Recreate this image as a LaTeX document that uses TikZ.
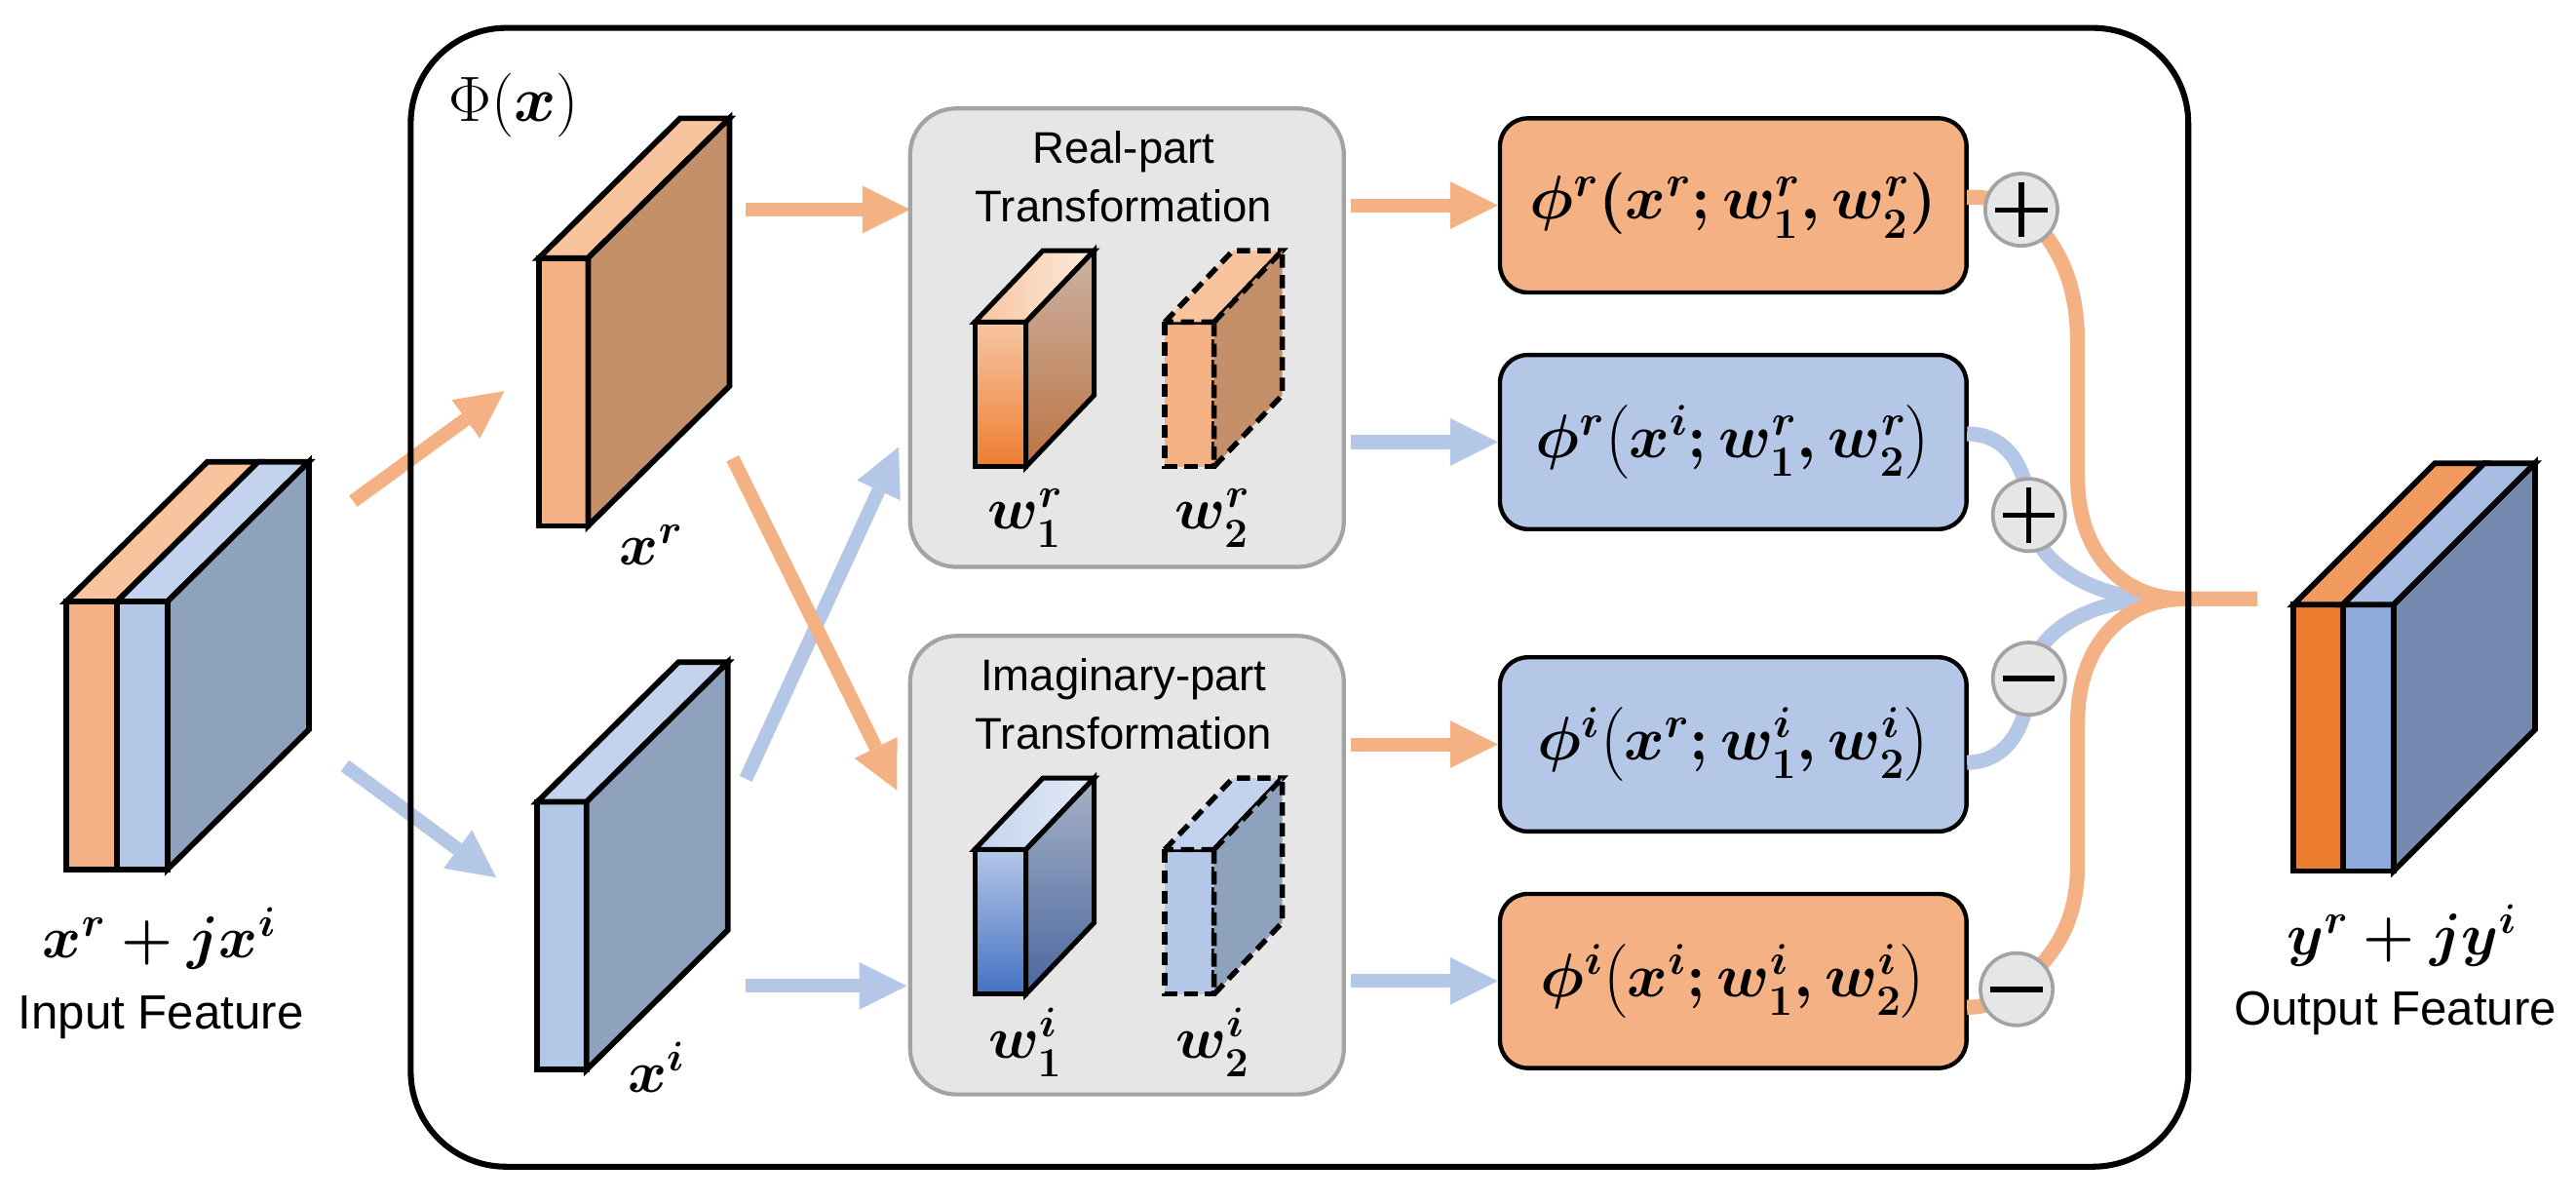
\RequirePackage{fix-cm}
\documentclass[tikz,border=0pt]{standalone}
\usepackage{amsmath}
\usepackage{bm}
\usepackage{fontspec}
\newfontfamily\arial{Liberation Sans}
\usetikzlibrary{arrows.meta,calc}
\definecolor{cor}{HTML}{F4B183}
\definecolor{corT}{HTML}{F7C49E}
\definecolor{corS}{HTML}{C4906A}
\definecolor{cbl}{HTML}{B4C7E7}
\definecolor{cblT}{HTML}{C3D3EE}
\definecolor{cblS}{HTML}{8FA2BD}
\definecolor{cod}{HTML}{ED7D31}
\definecolor{codT}{HTML}{F09A5E}
\definecolor{cbm}{HTML}{8FAADC}
\definecolor{cbmT}{HTML}{A8BDE4}
\definecolor{cbdS}{HTML}{7689B0}
\definecolor{gfill}{HTML}{E6E6E6}
\definecolor{gline}{HTML}{A3A3A3}
\definecolor{w1rF}{HTML}{F7C6A3}
\definecolor{w1rT}{HTML}{FCEBDF}
\definecolor{w1rS1}{HTML}{CBB2A3}
\definecolor{w1rS2}{HTML}{BD7444}
\definecolor{w1iF2}{HTML}{4472C4}
\definecolor{w1iT}{HTML}{E4EAF6}
\definecolor{w1iS1}{HTML}{A6B1C5}
\definecolor{w1iS2}{HTML}{4A67A0}
\begin{document}
\begin{tikzpicture}[x=1pt,y=-1pt,
  oarrow/.style={draw=cor, line width=8.4pt, -{Triangle[length=29pt,width=29pt,line width=0pt]}},
  barrow/.style={draw=cbl, line width=8.4pt, -{Triangle[length=29pt,width=29pt,line width=0pt]}},
  cub/.style={draw=black, line width=3.4pt},
  wcub/.style={draw=black, line width=3pt},
  dcub/.style={draw=black, line width=3.2pt, dash pattern=on 8pt off 4.5pt},
  gbox/.style={draw=gline, fill=gfill, line width=2.5pt, rounded corners=28pt, minimum width=264pt, minimum height=279pt, inner sep=0pt},
  fbox/.style={draw=black, line width=2.6pt, rounded corners=17pt, minimum width=284pt, minimum height=106pt, inner sep=0pt, font=\fontsize{37.5}{40}\selectfont\boldmath},
  mlab/.style={inner sep=0pt, font=\fontsize{36}{40}\selectfont\boldmath},
  slab/.style={inner sep=0pt, font=\arial\fontsize{29.2}{32}\selectfont},
  tlab/.style={inner sep=0pt, font=\arial\fontsize{27}{30}\selectfont},
  curveo/.style={draw=cor, line width=9pt},
  curveb/.style={draw=cbl, line width=9pt},
  opc/.style={circle, draw=gline, fill=gfill, line width=2.2pt, minimum size=44pt, inner sep=0pt},
  sgn/.style={draw=black, line width=3pt}
]
\useasboundingbox (0,0) rectangle (1568,731);

% ---------- arrow end coordinates ----------
\coordinate (a1s) at (215,305);   \coordinate (a1e) at (307,238);
\coordinate (a2s) at (210,466);   \coordinate (a2e) at (302,534);
\coordinate (a3s) at (454,127.5); \coordinate (a3e) at (554,127.5);
\coordinate (a4s) at (446,279);   \coordinate (a4e) at (546,481);
\coordinate (a5s) at (454,474);   \coordinate (a5e) at (547,272);
\coordinate (a6s) at (454,600);   \coordinate (a6e) at (552,600);

% ---------- input feature ----------
\filldraw[cub, fill=cor] (40.3,366) rectangle (71.2,529);
\filldraw[cub, fill=cbl] (71.2,366) rectangle (102,529);
\filldraw[cub, fill=corT] (40.3,366) -- (126.3,281) -- (157.2,281) -- (71.2,366) -- cycle;
\filldraw[cub, fill=cblT] (71.2,366) -- (157.2,281) -- (188,281) -- (102,366) -- cycle;
\filldraw[cub, fill=cblS] (102,366) -- (188,281) -- (188,444) -- (102,529) -- cycle;
\node[mlab, anchor=base] (lin) at (97,583) {$x^{r}+jx^{i}$};
\node[slab, anchor=base] (tin) at (98,626) {Input Feature};

% ---------- x^r and x^i ----------
\filldraw[cub, fill=cor] (328,157) rectangle (358,320);
\filldraw[cub, fill=corT] (328,157) -- (414,72) -- (444,72) -- (358,157) -- cycle;
\filldraw[cub, fill=corS] (358,157) -- (444,72) -- (444,235) -- (358,320) -- cycle;
\node[mlab, anchor=base west] (lxr) at (377,344) {$x^{r}$};

\filldraw[cub, fill=cbl] (327,488) rectangle (357,651);
\filldraw[cub, fill=cblT] (327,488) -- (413,403) -- (443,403) -- (357,488) -- cycle;
\filldraw[cub, fill=cblS] (357,488) -- (443,403) -- (443,566) -- (357,651) -- cycle;
\node[mlab, anchor=base west] (lxi) at (382,665) {$x^{i}$};

% ---------- arrows (left part) ----------
\draw[oarrow] (a1s) -- (a1e);
\draw[barrow] (a2s) -- (a2e);
\draw[oarrow] (a3s) -- (a3e);
\draw[barrow] (a5s) -- (a5e);
\draw[oarrow] (a4s) -- (a4e);
\draw[barrow] (a6s) -- (a6e);

% ---------- transformation boxes ----------
\node[gbox] (rbox) at (686,205.5) {};
\node[gbox] (ibox) at (686,526.5) {};
\node[tlab, anchor=base] (rt1) at (684,99.5) {Real-part};
\node[tlab, anchor=base] (rt2) at (684,135) {Transformation};
\node[tlab, anchor=base] (it1) at (684,420.5) {Imaginary-part};
\node[tlab, anchor=base] (it2) at (684,456) {Transformation};

% w1r (shaded)
\shadedraw[wcub, top color=w1rF, bottom color=cod] (593.3,196) rectangle (624.5,284);
\shadedraw[wcub, left color=corT, right color=w1rT] (593.3,196) -- (634.8,152.5) -- (666,152.5) -- (624.5,196) -- cycle;
\shadedraw[wcub, top color=w1rS1, bottom color=w1rS2] (624.5,196) -- (666,152.5) -- (666,240.5) -- (624.5,284) -- cycle;
% w2r (dashed)
\filldraw[dcub, fill=cor] (709,196) rectangle (739,284);
\filldraw[dcub, fill=corT] (709,196) -- (750.5,152.5) -- (780.5,152.5) -- (739,196) -- cycle;
\filldraw[dcub, fill=corS] (739,196) -- (780.5,152.5) -- (780.5,240.5) -- (739,284) -- cycle;
\node[mlab, anchor=base] (lw1r) at (624,322) {$w_1^{r}$};
\node[mlab, anchor=base] (lw2r) at (738,322) {$w_2^{r}$};

% w1i (shaded)
\shadedraw[wcub, top color=cbl, bottom color=w1iF2] (593.3,517) rectangle (624.5,605);
\shadedraw[wcub, left color=cblT, right color=w1iT] (593.3,517) -- (634.8,473.5) -- (666,473.5) -- (624.5,517) -- cycle;
\shadedraw[wcub, top color=w1iS1, bottom color=w1iS2] (624.5,517) -- (666,473.5) -- (666,561.5) -- (624.5,605) -- cycle;
% w2i (dashed)
\filldraw[dcub, fill=cbl] (709,517) rectangle (739,605);
\filldraw[dcub, fill=cblT] (709,517) -- (750.5,473.5) -- (780.5,473.5) -- (739,517) -- cycle;
\filldraw[dcub, fill=cblS] (739,517) -- (780.5,473.5) -- (780.5,561.5) -- (739,605) -- cycle;
\node[mlab, anchor=base] (lw1i) at (624,644) {$w_1^{i}$};
\node[mlab, anchor=base] (lw2i) at (738,644) {$w_2^{i}$};

% ---------- function boxes ----------
\node[fbox, fill=cor] (b1) at (1055,125) {$\phi^{r}(x^{r};w_1^{r},w_2^{r})$};
\node[fbox, fill=cbl] (b2) at (1055,269) {$\phi^{r}\bigl(x^{i};w_1^{r},w_2^{r}\bigr)$};
\node[fbox, fill=cbl] (b3) at (1055,453) {$\phi^{i}\bigl(x^{r};w_1^{i},w_2^{i}\bigr)$};
\node[fbox, fill=cor] (b4) at (1055,597) {$\phi^{i}\bigl(x^{i};w_1^{i},w_2^{i}\bigr)$};

\draw[oarrow] (rbox.east |- b1.west) ++(3,0) -- (b1.west);
\draw[barrow] (rbox.east |- b2.west) ++(3,0) -- (b2.west);
\draw[oarrow] (ibox.east |- b3.west) ++(3,0) -- (b3.west);
\draw[barrow] (ibox.east |- b4.west) ++(3,0) -- (b4.west);

% ---------- merging curves ----------
\coordinate (c1) at (1230.4,127.6);
\coordinate (c2) at (1235,313.4);
\coordinate (c3) at (1235,413);
\coordinate (c4) at (1227.5,602);
\coordinate (mB) at (1312,364.5);
\coordinate (mO) at (1330,364.5);
\coordinate (tail) at (1374,364.5);

\draw[curveb] ($(b2.east)+(-1,-5)$) .. controls +(26,0) and +(0,-26) .. (c2) .. controls +(4,34) and +(-30,0) .. (mB);
\draw[curveb] ($(b3.east)+(-1,11)$) .. controls +(26,0) and +(0,26) .. (c3) .. controls +(4,-34) and +(-30,0) .. (mB);
\draw[curveo] ($(b1.east)+(-1,-5)$) .. controls +(14,0) and +(-10,-6) .. (c1) .. controls +(25,22) and +(0,-35) .. (1264.6,210) -- (1264.6,290) .. controls +(0,45) and +(-40,0) .. (mO) -- (tail);
\draw[curveo] ($(b4.east)+(-1,16)$) .. controls +(14,0) and +(-10,6) .. (c4) .. controls +(25,-22) and +(0,35) .. (1264.6,525) -- (1264.6,440) .. controls +(0,-45) and +(-40,0) .. (mO) -- (tail);

\node[opc] (o1) at (c1) {};
\node[opc] (o2) at (c2) {};
\node[opc] (o3) at (c3) {};
\node[opc] (o4) at (c4) {};
\draw[sgn] ($(o1)+(-15.8,0)$) -- ($(o1)+(15.8,0)$);
\draw[sgn] ($(o1)+(0,-16.8)$) -- ($(o1)+(0,16.8)$);
\draw[sgn] ($(o2)+(-15.8,0)$) -- ($(o2)+(15.8,0)$);
\draw[sgn] ($(o2)+(0,-16.8)$) -- ($(o2)+(0,16.8)$);
\draw[sgn, line width=3.4pt] ($(o3)+(-15.8,0)$) -- ($(o3)+(15.8,0)$);
\draw[sgn, line width=3.4pt] ($(o4)+(-15.8,0)$) -- ($(o4)+(15.8,0)$);

% ---------- output feature ----------
\filldraw[cub, fill=cod] (1396,368) rectangle (1426,530);
\filldraw[cub, fill=cbm] (1426,368) rectangle (1457,530);
\filldraw[cub, fill=codT] (1396,368) -- (1482,282) -- (1512,282) -- (1426,368) -- cycle;
\filldraw[cub, fill=cbmT] (1426,368) -- (1512,282) -- (1543,282) -- (1457,368) -- cycle;
\filldraw[cub, fill=cbdS] (1457,368) -- (1543,282) -- (1543,444) -- (1457,530) -- cycle;
\node[mlab, anchor=base] (lout) at (1462,581) {$y^{r}+jy^{i}$};
\node[slab, anchor=base] (tout) at (1458,624) {Output Feature};

% ---------- frame ----------
\node[draw=black, line width=3.6pt, rounded corners=58pt, minimum width=1082pt, minimum height=693pt, inner sep=0pt] (frame) at (791,363.5) {};
\node[inner sep=0pt, anchor=base west, font=\fontsize{39}{42}\selectfont] (philab) at (273,74) {$\Phi(\bm{x})$};
\end{tikzpicture}
\end{document}
